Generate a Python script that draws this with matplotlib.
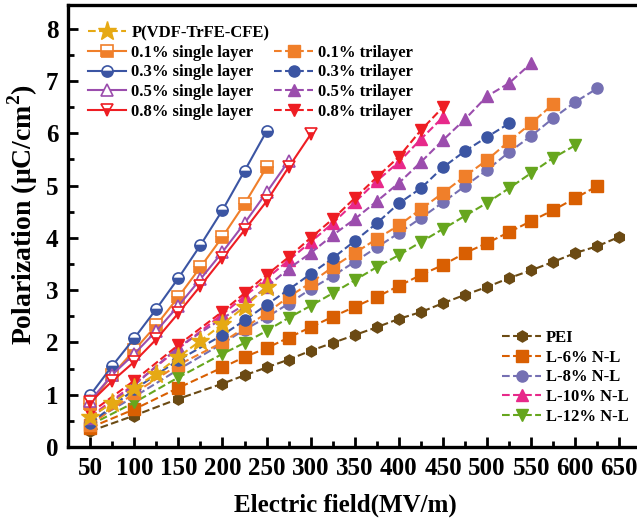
import numpy as np
import matplotlib
matplotlib.use('Agg')
import matplotlib.pyplot as plt
from matplotlib.lines import Line2D

plt.rcParams['font.family'] = ['Liberation Serif', 'DejaVu Serif']
plt.rcParams['font.weight'] = 'bold'
plt.rcParams['mathtext.fontset'] = 'custom'
plt.rcParams['mathtext.rm'] = 'Liberation Serif:bold'
plt.rcParams['mathtext.bf'] = 'Liberation Serif:bold'

# electric field grids (MV/m)
E_fine = [50, 75, 100, 125, 150, 175, 200, 225, 250, 275, 300]
E_coarse = [50, 100, 150, 200, 225, 250, 275, 300, 325, 350, 375, 400, 425,
            450, 475, 500, 525, 550, 575, 600, 625, 650]

# polarization (uC/cm2)
P_ter = [0.57, 0.84, 1.13, 1.40, 1.72, 2.03, 2.35, 2.68, 3.06]
P_s01 = [0.82, 1.38, 1.85, 2.33, 2.87, 3.44, 4.02, 4.65, 5.35]
P_s03 = [0.99, 1.55, 2.08, 2.64, 3.23, 3.86, 4.53, 5.28, 6.04]
P_s05 = [0.88, 1.38, 1.78, 2.22, 2.70, 3.21, 3.73, 4.28, 4.87, 5.47]
P_s08 = [0.85, 1.26, 1.63, 2.06, 2.56, 3.08, 3.61, 4.15, 4.70, 5.35, 5.98]

P_t01 = [0.42, 1.03, 1.57, 2.00, 2.28, 2.56, 2.87, 3.14, 3.44, 3.71, 3.98, 4.24,
         4.55, 4.86, 5.18, 5.49, 5.85, 6.19, 6.56]
P_t03 = [0.45, 1.10, 1.66, 2.14, 2.42, 2.72, 3.01, 3.31, 3.61, 3.94, 4.28, 4.66,
         4.95, 5.35, 5.66, 5.93, 6.19]
P_t05 = [0.55, 1.18, 1.91, 2.46, 2.72, 3.06, 3.41, 3.71, 4.05, 4.36, 4.70, 5.05,
         5.45, 5.87, 6.27, 6.71, 6.96, 7.34]
P_t08 = [0.65, 1.27, 1.95, 2.59, 2.94, 3.29, 3.63, 4.00, 4.36, 4.76, 5.16, 5.55,
         6.06, 6.50]

P_pei = [0.30, 0.60, 0.92, 1.21, 1.37, 1.52, 1.67, 1.84, 1.99, 2.14, 2.29, 2.45,
         2.58, 2.75, 2.91, 3.06, 3.23, 3.38, 3.54, 3.71, 3.84, 4.02]
P_l6 = [0.37, 0.72, 1.13, 1.52, 1.72, 1.89, 2.09, 2.29, 2.49, 2.68, 2.87, 3.08,
        3.29, 3.48, 3.71, 3.90, 4.11, 4.32, 4.53, 4.76, 4.99]
P_l8 = [0.47, 0.96, 1.48, 1.98, 2.24, 2.48, 2.74, 3.02, 3.27, 3.54, 3.82, 4.09,
        4.38, 4.68, 4.99, 5.30, 5.64, 5.95, 6.29, 6.60, 6.86]
P_l10 = [0.58, 1.20, 1.88, 2.54, 2.88, 3.22, 3.57, 3.92, 4.28, 4.68, 5.09, 5.45,
         5.89, 6.31]
P_l12 = [0.42, 0.85, 1.33, 1.78, 1.99, 2.22, 2.47, 2.70, 2.94, 3.19, 3.44, 3.67,
         3.92, 4.17, 4.42, 4.67, 4.95, 5.24, 5.53, 5.77]

gold, orange, blue, purple, red = '#E6A914', '#F07F2A', '#3B55A3', '#9B4DAD', '#EE1D23'
brown, c6, c8, c10, c12 = '#6B4A13', '#D95F02', '#7570B3', '#E7298A', '#66A61E'

fig = plt.figure(figsize=(6.37, 5.27), dpi=100)
ax = fig.add_axes([0.107, 0.152, 0.893, 0.838])

lw = 1.5
ms = 8

def draw(vals, grid, **kw):
    return ax.plot(grid[:len(vals)], vals, lw=lw, ms=ms, **kw)[0]

# N-L composites (drawn first, underneath)
h_pei = draw(P_pei, E_coarse, color=brown, ls='--', marker='h', mec=brown, label='PEI')
h_l6 = draw(P_l6, E_coarse, color=c6, ls='--', marker='s', mec=c6, label='L-6% N-L')
h_l8 = draw(P_l8, E_coarse, color=c8, ls='--', marker='o', mec=c8, label='L-8% N-L')
h_l12 = draw(P_l12, E_coarse, color=c12, ls='--', marker='v', mec=c12, label='L-12% N-L')
h_l10 = draw(P_l10, E_coarse, color=c10, ls='--', marker='^', mec=c10, label='L-10% N-L')

# trilayers
h_t01 = draw(P_t01, E_coarse, color=orange, ls='--', marker='s', mec=orange, label='0.1% trilayer')
h_t03 = draw(P_t03, E_coarse, color=blue, ls='--', marker='o', mec=blue, label='0.3% trilayer')
h_t05 = draw(P_t05, E_coarse, color=purple, ls='--', marker='^', mec=purple, label='0.5% trilayer')
h_t08 = draw(P_t08, E_coarse, color=red, ls='--', marker='v', mec=red, label='0.8% trilayer')

h_ter = ax.plot(E_fine[:len(P_ter)], P_ter, color=gold, ls='--', lw=lw, marker='*',
                ms=14, mec=gold, label='P(VDF-TrFE-CFE)')[0]

# single layers
h_s01 = draw(P_s01, E_fine, color=orange, marker='s', fillstyle='bottom', mfc=orange,
             markerfacecoloralt='white', mec=orange, mew=1.2, label='0.1% single layer')
h_s03 = draw(P_s03, E_fine, color=blue, marker='o', fillstyle='bottom', mfc=blue,
             markerfacecoloralt='white', mec=blue, mew=1.2, label='0.3% single layer')
h_s05 = draw(P_s05, E_fine, color=purple, marker='^', mfc='white', mec=purple,
             mew=1.2, label='0.5% single layer')
h_s08 = draw(P_s08, E_fine, color=red, marker='v', fillstyle='bottom', mfc=red,
             markerfacecoloralt='white', mec=red, mew=1.2, label='0.8% single layer')

ax.set_xlim(25, 670)
ax.set_ylim(0, 8.45)
ax.set_xticks(np.arange(50, 651, 50))
ax.set_xticks(np.arange(75, 651, 50), minor=True)
ax.set_yticks(np.arange(0, 9, 1))
ax.set_yticks(np.arange(0.5, 8.5, 1), minor=True)
ax.tick_params(which='both', direction='in', width=2, labelsize=18, pad=7)
ax.tick_params(which='major', length=7)
ax.tick_params(which='minor', length=4)
for lab in ax.get_xticklabels() + ax.get_yticklabels():
    lab.set_fontweight('bold')
for s in ('left', 'bottom', 'top'):
    ax.spines[s].set_linewidth(2.4)
ax.spines['right'].set_visible(False)

ax.set_xlabel('Electric field(MV/m)', fontsize=18, fontweight='bold')
ax.set_ylabel(r'Polarization (μC/cm$^\mathbf{2}$)', fontsize=20, fontweight='bold')
ax.xaxis.set_label_coords(0.488, -0.105)
ax.yaxis.set_label_coords(-0.05, 0.525)

blank = Line2D([], [], ls='none', marker='none')
leg1 = ax.legend([h_ter, h_s01, h_s03, h_s05, h_s08, blank, h_t01, h_t03, h_t05, h_t08],
                 ['P(VDF-TrFE-CFE)', '0.1% single layer', '0.3% single layer',
                  '0.5% single layer', '0.8% single layer', '', '0.1% trilayer',
                  '0.3% trilayer', '0.5% trilayer', '0.8% trilayer'],
                 ncol=2, loc='upper left', bbox_to_anchor=(0.035, 0.955), frameon=False,
                 prop={'size': 12, 'weight': 'bold'}, handlelength=2.3, handletextpad=0.3,
                 labelspacing=0.22, columnspacing=0.3, borderpad=0, borderaxespad=0)
ax.add_artist(leg1)
ax.legend([h_pei, h_l6, h_l8, h_l10, h_l12],
          ['PEI', 'L-6% N-L', 'L-8% N-L', 'L-10% N-L', 'L-12% N-L'],
          loc='lower right', bbox_to_anchor=(0.985, 0.05), frameon=False,
          prop={'size': 12, 'weight': 'bold'}, handlelength=2.3, handletextpad=0.3,
          labelspacing=0.22, borderpad=0, borderaxespad=0)

plt.savefig('out.png', dpi=100)
plt.close(fig)
